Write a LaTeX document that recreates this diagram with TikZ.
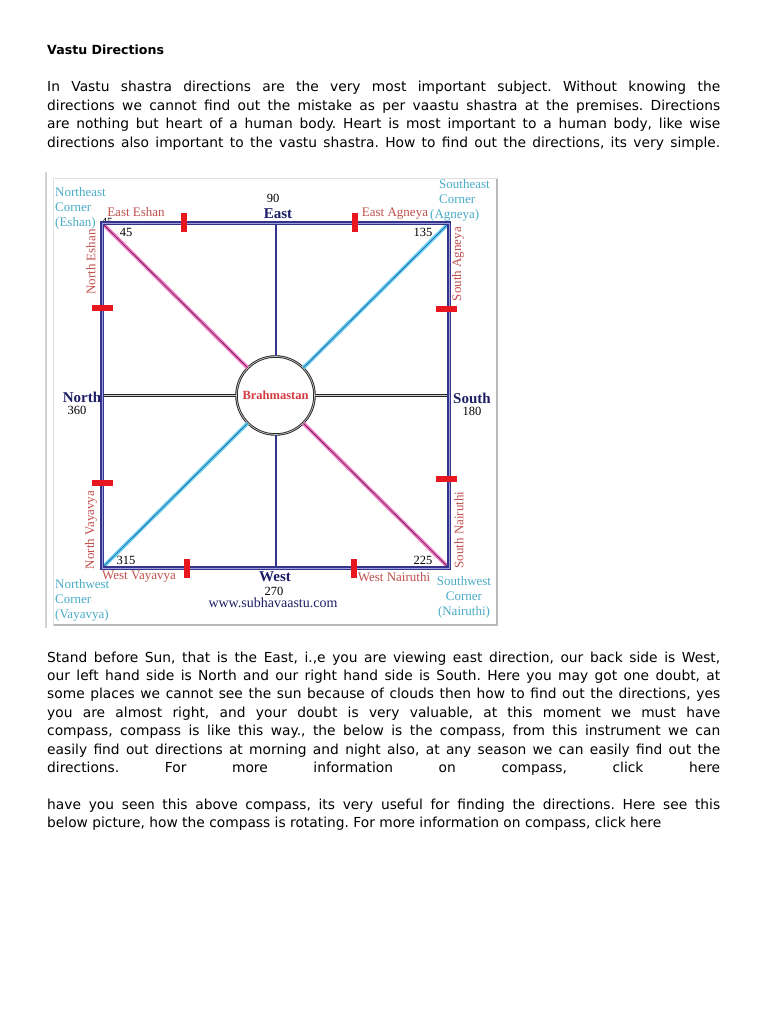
\documentclass[tikz,border=0pt]{standalone}
\usepackage{fontspec}
\setmainfont{DejaVu Sans}
\newfontfamily\vastu{Liberation Serif}
\usetikzlibrary{positioning,calc}
\definecolor{coinbleu}{HTML}{4BACC6}
\definecolor{zonerouge}{HTML}{C0504D}
\definecolor{brahmarouge}{HTML}{D43A3F}
\definecolor{marine}{HTML}{1E1E66}
\definecolor{cadre}{HTML}{34348E}
\definecolor{cadreC}{HTML}{A0A0D8}
\definecolor{repere}{HTML}{E8161E}
\definecolor{rose}{HTML}{F07CC4}
\definecolor{roseF}{HTML}{7B1D5C}
\definecolor{ciel}{HTML}{6CD0F2}
\definecolor{cielF}{HTML}{1E6EA8}
\tikzset{
  para/.style={anchor=base west, inner sep=0pt, text width=673pt, align=justify,
               font=\fontsize{13.8}{18.4}\selectfont},
  coin/.style={inner sep=0pt, text=coinbleu, font=\vastu\fontsize{13}{15}\selectfont},
  zone/.style={inner sep=0pt, text=zonerouge, font=\vastu\fontsize{13}{15}\selectfont},
  dir/.style={inner sep=0pt, text=marine, font=\vastu\bfseries\fontsize{15}{17}\selectfont},
  deg/.style={inner sep=0pt, font=\vastu\fontsize{12.5}{14}\selectfont},
  tickv/.style={rectangle, fill=repere, minimum width=6pt, minimum height=19pt, inner sep=0pt},
  tickh/.style={rectangle, fill=repere, minimum width=21pt, minimum height=6pt, inner sep=0pt},
  bord/.style={draw=cadre, double=cadreC, line width=1.3pt, double distance=0.9pt},
  axens/.style={draw=black!85, double=gray!40, line width=1pt, double distance=0.9pt},
  axeew/.style={draw=cadre, line width=2pt},
  diagr/.style={draw=rose, double=roseF, line width=1.5pt, double distance=0.8pt},
  diagc/.style={draw=ciel, double=cielF, line width=1.5pt, double distance=0.8pt},
}

\begin{document}
\begin{tikzpicture}[x=1pt, y=-1pt]
  \useasboundingbox (0,0) rectangle (768,1024);
  \fill[white] (0,0) rectangle (768,1024);

  % page text
  \node[anchor=base west, inner sep=0pt, font=\bfseries\fontsize{12.6}{15}\selectfont] (titre) at (47,55) {Vastu Directions};
  \node[para] (p1) at (47,92) {\frenchspacing \hyphenpenalty=10000 \tolerance=10000
    In Vastu shastra directions are the very most important subject. Without knowing the\linebreak
    directions we cannot find out the mistake as per vaastu shastra at the premises. Directions\linebreak
    are nothing but heart of a human body. Heart is most important to a human body, like wise\linebreak
    directions also important to the vastu shastra. How to find out the directions, its very simple.\parfillskip=0pt\par};

  % picture frame
  \draw[gray!35, line width=2pt] (46,172) -- (46,628);
  \draw[gray!25] (53,178) rectangle (497,625);
  \draw[gray!55, line width=1.2pt] (497,179) -- (497,625) -- (54,625);

  \coordinate (ne) at (102,223);
  \coordinate (se) at (449,223);
  \coordinate (nw) at (102,568);
  \coordinate (sw) at (449,568);
  \coordinate (east) at (275.5,223);
  \coordinate (west) at (275.5,568);
  \coordinate (north) at (102,395.5);
  \coordinate (south) at (449,395.5);

  \node[deg, font=\vastu\fontsize{11}{12}\selectfont] (c45) at (107,222) {45};

  \node[circle, minimum size=78pt, inner sep=0pt, draw=black!85, double=gray!45,
        line width=0.9pt, double distance=0.7pt, fill=white, text=brahmarouge,
        font=\vastu\bfseries\fontsize{12.5}{14}\selectfont] (brahma) at (275.5,395.5) {Brahmastan};

  \draw[axeew] (east) -- (brahma);
  \draw[axeew] (brahma) -- (west);
  \draw[axens] (north) -- (brahma);
  \draw[axens] (brahma) -- (south);
  \draw[diagr] (ne) -- (brahma);
  \draw[diagr] (brahma) -- (sw);
  \draw[diagc] (se) -- (brahma);
  \draw[diagc] (brahma) -- (nw);
  \draw[bord] (ne) -- (se) -- (sw) -- (nw) -- cycle;

  % red marks on the sides
  \node[tickv] (m1) at (184,223) {};
  \node[tickv] (m2) at (355,223) {};
  \node[tickv] (m3) at (187,568) {};
  \node[tickv] (m4) at (354,568) {};
  \node[tickh] (m5) at (102,308) {};
  \node[tickh] (m6) at (102,483) {};
  \node[tickh] (m7) at (446,309) {};
  \node[tickh] (m8) at (446,479) {};

  % labels
  \node[coin, align=left, anchor=west] (cne) at (55,208) {Northeast\\Corner\\(Eshan)};
  \node[coin, align=left, anchor=west] (cse) at (439,200) {Southeast\\Corner\\\hspace*{-9pt}(Agneya)};
  \node[coin, align=left, anchor=west] (cnw) at (55,600) {Northwest\\Corner\\(Vayavya)};
  \node[coin, align=center] (csw) at (464,597) {Southwest\\Corner\\(Nairuthi)};

  \node[zone] (zee) at (136,212) {East Eshan};
  \node[zone] (zea) at (395,214) {East Agneya};
  \node[zone] (zwv) at (139,577) {West Vayavya};
  \node[zone] (zwn) at (394,577) {West Nairuthi};
  \node[zone, rotate=90] (zne) at (91,262) {North Eshan};
  \node[zone, rotate=90] (zsa) at (458,264) {South Agneya};
  \node[zone, rotate=90] (znv) at (91,530) {North Vayavya};
  \node[zone, rotate=90] (zsn) at (459,530) {South Nairuthi};

  \node[dir] (deast) at (278,214) {East};
  \node[deg] (d90) at (273,198) {90};
  \node[dir] (dnorth) at (82,397) {North};
  \node[deg] (d360) at (77,410) {360};
  \node[dir] (dsouth) at (472,398) {South};
  \node[deg] (d180) at (472,411) {180};
  \node[dir] (dwest) at (275,577) {West};
  \node[deg] (d270) at (274,591) {270};
  \node[deg, text=marine, font=\vastu\fontsize{14}{15}\selectfont] (www) at (273,603) {www.subhavaastu.com};

  \node[deg] (d45) at (126,232) {45};
  \node[deg] (d135) at (423,232) {135};
  \node[deg] (d315) at (126,560) {315};
  \node[deg] (d225) at (423,560) {225};

  % text under the picture
  \node[para] (p2) at (47,662) {\frenchspacing \hyphenpenalty=10000 \tolerance=10000
    Stand before Sun, that is the East, i.,e you are viewing east direction, our back side is West,\linebreak
    our left hand side is North and our right hand side is South. Here you may got one doubt, at\linebreak
    some places we cannot see the sun because of clouds then how to find out the directions, yes\linebreak
    you are almost right, and your doubt is very valuable, at this moment we must have\linebreak
    compass, compass is like this way., the below is the compass, from this instrument we can\linebreak
    easily find out directions at morning and night also, at any season we can easily find out the\linebreak
    directions. For more information on compass, click here\parfillskip=0pt\par};
  \node[para] (p3) at (47,809) {\frenchspacing \hyphenpenalty=10000 \tolerance=10000
    have you seen this above compass, its very useful for finding the directions. Here see this\linebreak
    below picture, how the compass is rotating. For more information on compass, click here};
\end{tikzpicture}
\end{document}
